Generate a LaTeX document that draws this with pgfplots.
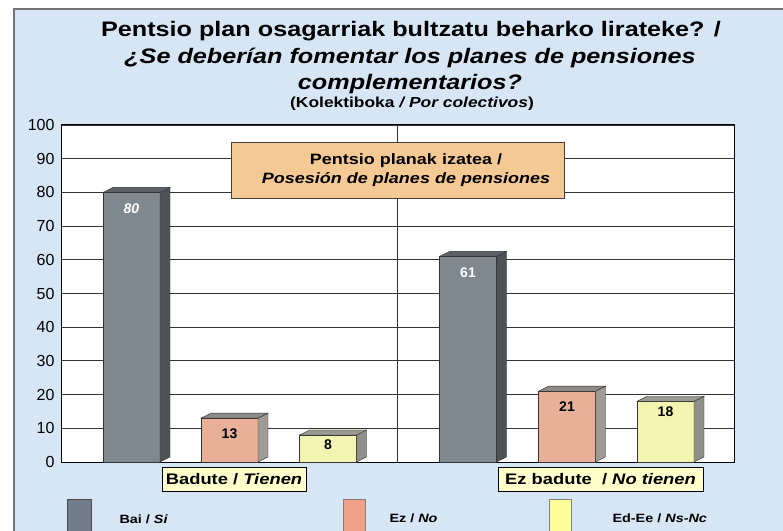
\documentclass[border=0pt]{standalone}
\usepackage{pgfplots}
\pgfplotsset{compat=1.18}
\usepackage{fontspec}
\setmainfont{Liberation Sans}
\newfontfamily\wide{Liberation Sans}[FakeStretch=1.2]

\definecolor{panel}{HTML}{D6E6F4}
\definecolor{baifront}{HTML}{7F878F}
\definecolor{baiside}{HTML}{4E5257}
\definecolor{baitop}{HTML}{5E6266}
\definecolor{ezfront}{HTML}{E8AF99}
\definecolor{ezside}{HTML}{A09A96}
\definecolor{eztop}{HTML}{8E8A88}
\definecolor{edfront}{HTML}{F3F3B2}
\definecolor{edside}{HTML}{90908A}
\definecolor{edtop}{HTML}{9A9A90}
\definecolor{boxorange}{HTML}{F5C993}
\definecolor{catbox}{HTML}{FFFFCC}
\definecolor{legbai}{HTML}{717D89}
\definecolor{legez}{HTML}{F0A088}
\definecolor{leged}{HTML}{FFFF99}

% font size in px (1pt = 1px here)
\newcommand{\px}[1]{\fontsize{#1}{#1}\selectfont}

\begin{document}
\begin{tikzpicture}[x=1pt,y=1pt]
\useasboundingbox (0,0) rectangle (783,530);
\fill[white] (0,0) rectangle (783,530);
\filldraw[fill=panel, draw=black!55, line width=1.2pt] (14,-10) rectangle (800,521);

% titles
\node[font=\wide\px{21}\bfseries] at (411,499) {Pentsio plan osagarriak bultzatu beharko lirateke? /};
\node[font=\wide\px{21}\bfseries\itshape] at (410,472) {¿Se deberían fomentar los planes de pensiones};
\node[font=\wide\px{21}\bfseries\itshape] at (410,446) {complementarios?};
\node[font=\wide\px{14.5}\bfseries] at (412,426) {(Kolektiboka \textit{/ Por colectivos})};

\begin{axis}[
    at={(61pt,68pt)}, anchor=south west,
    scale only axis, width=673pt, height=337pt,
    xmin=0, xmax=673, ymin=0, ymax=100,
    ytick={0,10,...,100}, xtick=\empty,
    ymajorgrids,
    major grid style={black!80, line width=0.9pt},
    axis background/.style={fill=white},
    axis line style={black, line width=1pt},
    major tick length=0pt,
    tick label style={font=\px{16}},
    /pgf/number format/assume math mode=true,
    yticklabel style={xshift=-3pt},
    extra x ticks={336.5}, extra x tick labels={},
    extra x tick style={grid=major},
    clip=false,
]

% Bai / Si
\addplot[ybar, bar width=57, bar shift=0pt, fill=baifront, draw=black!80,
    nodes near coords, point meta=explicit symbolic,
    every node near coord/.append style={anchor=center, yshift=-16pt, font=\px{14}\bfseries, text=white}]
    coordinates {(70.5,80) [\textit{80}] (407,61) [61]};
% Ez / No
\addplot[ybar, bar width=57, bar shift=0pt, fill=ezfront, draw=black!80,
    nodes near coords,
    every node near coord/.append style={anchor=center, yshift=-15pt, font=\px{14}\bfseries, text=black}]
    coordinates {(168.5,13) (506,21)};
% Ed-Ee / Ns-Nc
\addplot[ybar, bar width=57, bar shift=0pt, fill=edfront, draw=black!80,
    nodes near coords,
    every node near coord/.append style={anchor=center, yshift=-10pt, font=\px{14}\bfseries, text=black}]
    coordinates {(267,8) (604.5,18)};

% 3D sides and tops
\addplot[fill=baiside, draw=black!80] coordinates {(99,0) (109,1.5) (109,81.5) (99,80)} -- cycle;
\addplot[fill=baitop, draw=black!80] coordinates {(42,80) (52,81.5) (109,81.5) (99,80)} -- cycle;
\addplot[fill=ezside, draw=black!80] coordinates {(197,0) (207,1.5) (207,14.5) (197,13)} -- cycle;
\addplot[fill=eztop, draw=black!80] coordinates {(140,13) (150,14.5) (207,14.5) (197,13)} -- cycle;
\addplot[fill=edside, draw=black!80] coordinates {(295.5,0) (305.5,1.5) (305.5,9.5) (295.5,8)} -- cycle;
\addplot[fill=edtop, draw=black!80] coordinates {(238.5,8) (248.5,9.5) (305.5,9.5) (295.5,8)} -- cycle;
\addplot[fill=baiside, draw=black!80] coordinates {(435.5,0) (445.5,1.5) (445.5,62.5) (435.5,61)} -- cycle;
\addplot[fill=baitop, draw=black!80] coordinates {(378.5,61) (388.5,62.5) (445.5,62.5) (435.5,61)} -- cycle;
\addplot[fill=ezside, draw=black!80] coordinates {(534.5,0) (544.5,1.5) (544.5,22.5) (534.5,21)} -- cycle;
\addplot[fill=eztop, draw=black!80] coordinates {(477.5,21) (487.5,22.5) (544.5,22.5) (534.5,21)} -- cycle;
\addplot[fill=edside, draw=black!80] coordinates {(633,0) (643,1.5) (643,19.5) (633,18)} -- cycle;
\addplot[fill=edtop, draw=black!80] coordinates {(576,18) (586,19.5) (643,19.5) (633,18)} -- cycle;
\end{axis}

% inner box
\filldraw[fill=boxorange, draw=black!75] (231,332) rectangle (564,388);
\node[align=center, font=\wide\px{15}\bfseries, inner sep=0pt] at (406,360)
      {Pentsio planak izatea /\\[4pt] \itshape Posesión de planes de pensiones};

% group labels
\node[draw=black, fill=catbox, minimum width=144pt, minimum height=24pt, inner sep=0pt,
      font=\wide\px{15.3}\bfseries] at (234,51) {Badute / \textit{Tienen}};
\node[draw=black, fill=catbox, minimum width=205pt, minimum height=24pt, inner sep=0pt,
      font=\wide\px{15.3}\bfseries] at (600.5,51) {Ez badute \ / \textit{No tienen}};

% legend
\filldraw[fill=legbai, draw=black!70] (67,31) rectangle (91,-5);
\filldraw[fill=legez, draw=black!50] (343,31) rectangle (365,-5);
\filldraw[fill=leged, draw=black!50] (549,31) rectangle (571,-5);
\node[anchor=west, font=\wide\px{12}\bfseries] at (116,11) {Bai / \textit{Si}};
\node[anchor=west, font=\wide\px{12}\bfseries] at (386,12) {Ez / \textit{No}};
\node[anchor=west, font=\wide\px{12}\bfseries] at (609,12) {Ed-Ee / \textit{Ns-Nc}};
\end{tikzpicture}
\end{document}
